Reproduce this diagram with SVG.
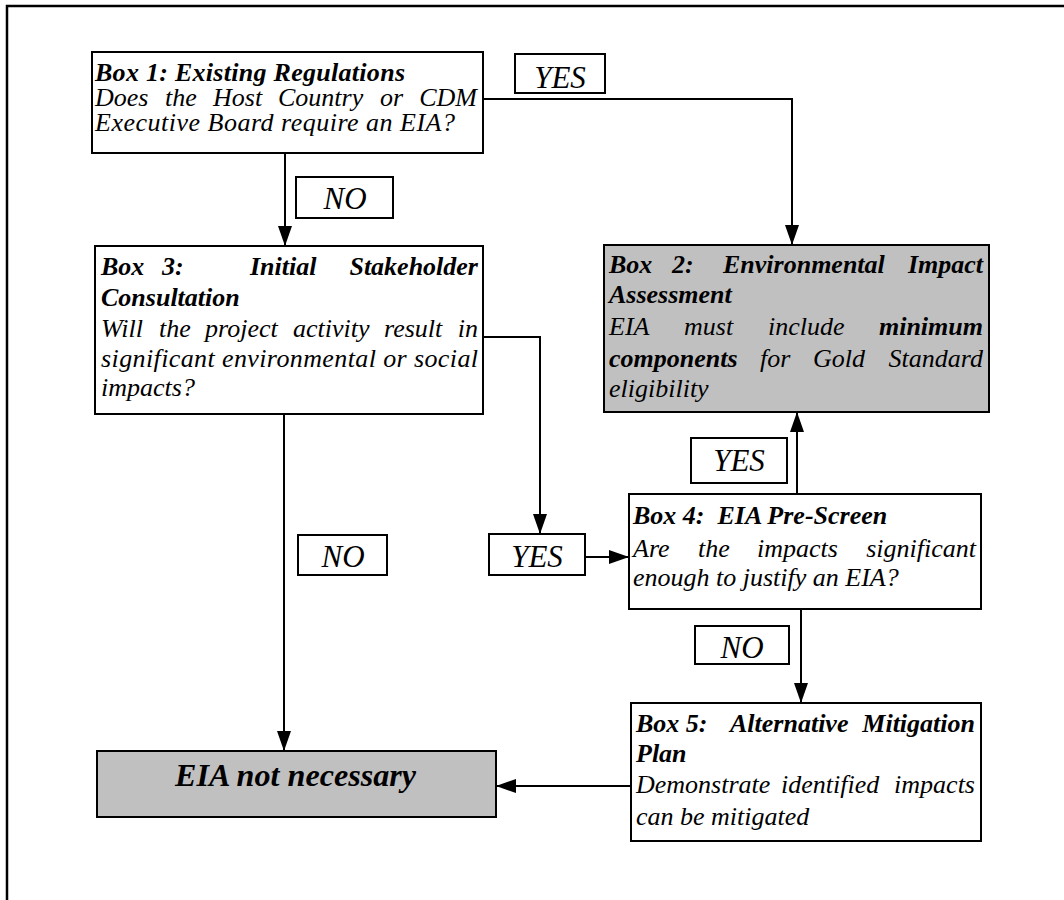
<svg xmlns="http://www.w3.org/2000/svg" width="1064" height="900" viewBox="0 0 1064 900">
<defs>
<marker id="arr" viewBox="0 0 20 14" refX="20" refY="7" markerWidth="20" markerHeight="14" markerUnits="userSpaceOnUse" orient="auto">
<path d="M0,0 L20,7 L0,14 z" fill="#000"/>
</marker>
</defs>
<style>
.box{fill:#fff;stroke:#000;stroke-width:2}
.grey{fill:#c0c0c0;stroke:#000;stroke-width:2}
.lab{fill:#fff;stroke:#000;stroke-width:2}
.con{fill:none;stroke:#000;stroke-width:2;marker-end:url(#arr)}
</style>
<rect width="1064" height="900" fill="#fff"/>
<g id="frame">
<path d="M7,900 V6 H1064" fill="none" stroke="#000" stroke-width="2.5"/>
</g>
<g id="connectors">
<path class="con" d="M483,99 H792 V245"/>
<path class="con" d="M285,153 V246"/>
<path class="con" d="M483,337 H540 V534"/>
<path class="con" d="M585,557 H629"/>
<path class="con" d="M797,494 V412"/>
<path class="con" d="M801,609 V703"/>
<path class="con" d="M284,414 V751"/>
<path class="con" d="M631,786 H496"/>
</g>
<g id="box1" font-family="Liberation Serif" font-style="italic" font-size="26">
<rect class="box" x="92" y="52" width="391" height="101"/>
<text font-weight="bold" x="95" y="81" textLength="310" lengthAdjust="spacing">Box 1: Existing Regulations</text>
<text x="95" y="106">Does</text>
<text x="165" y="106">the</text>
<text x="213" y="106">Host</text>
<text x="278" y="106">Country</text>
<text x="380" y="106">or</text>
<text x="477" y="106" text-anchor="end">CDM</text>
<text x="95" y="131" textLength="360" lengthAdjust="spacing">Executive Board require an EIA?</text>
</g>
<g id="box3" font-family="Liberation Serif" font-style="italic" font-size="26">
<rect class="box" x="95" y="246" width="388" height="168"/>
<text font-weight="bold" x="101" y="275">Box</text>
<text font-weight="bold" x="162" y="275">3:</text>
<text font-weight="bold" x="250" y="275">Initial</text>
<text font-weight="bold" x="478" y="275" text-anchor="end">Stakeholder</text>
<text font-weight="bold" x="101" y="306">Consultation</text>
<text x="101" y="337">Will</text>
<text x="159" y="337">the</text>
<text x="205" y="337">project</text>
<text x="293" y="337">activity</text>
<text x="384" y="337">result</text>
<text x="478" y="337" text-anchor="end">in</text>
<text x="101" y="367" textLength="377" lengthAdjust="spacing">significant environmental or social</text>
<text x="101" y="396">impacts?</text>
</g>
<g id="box2" font-family="Liberation Serif" font-style="italic" font-size="26">
<rect class="grey" x="604" y="245" width="385" height="167"/>
<text font-weight="bold" x="609" y="273">Box</text>
<text font-weight="bold" x="672" y="273">2:</text>
<text font-weight="bold" x="723" y="273">Environmental</text>
<text font-weight="bold" x="983" y="273" text-anchor="end">Impact</text>
<text font-weight="bold" x="609" y="303">Assessment</text>
<text x="609" y="335">EIA</text>
<text x="684" y="335">must</text>
<text x="768" y="335">include</text>
<text font-weight="bold" x="983" y="335" text-anchor="end">minimum</text>
<text font-weight="bold" x="609" y="367">components</text>
<text x="760" y="367">for</text>
<text x="813" y="367">Gold</text>
<text x="983" y="367" text-anchor="end">Standard</text>
<text x="609" y="397">eligibility</text>
</g>
<g id="box4" font-family="Liberation Serif" font-style="italic" font-size="26">
<rect class="box" x="629" y="494" width="352" height="115"/>
<text font-weight="bold" x="633" y="524" xml:space="preserve">Box 4:  EIA Pre-Screen</text>
<text x="633" y="557">Are</text>
<text x="698" y="557">the</text>
<text x="757" y="557">impacts</text>
<text x="976" y="557" text-anchor="end">significant</text>
<text x="633" y="586">enough to justify an EIA?</text>
</g>
<g id="box5" font-family="Liberation Serif" font-style="italic" font-size="26">
<rect class="box" x="631" y="703" width="350" height="138"/>
<text font-weight="bold" x="636" y="732">Box 5:</text>
<text font-weight="bold" x="730" y="732">Alternative</text>
<text font-weight="bold" x="975" y="732" text-anchor="end">Mitigation</text>
<text font-weight="bold" x="636" y="762">Plan</text>
<text x="636" y="793">Demonstrate</text>
<text x="781" y="793">identified</text>
<text x="975" y="793" text-anchor="end">impacts</text>
<text x="636" y="825">can be mitigated</text>
</g>
<g id="eia-not-necessary" font-family="Liberation Serif" font-style="italic">
<rect class="grey" x="97" y="751" width="399" height="66"/>
<text font-weight="bold" x="175" y="786" font-size="31" textLength="241" lengthAdjust="spacingAndGlyphs">EIA not necessary</text>
</g>
<g id="label-yes1" font-family="Liberation Serif" font-style="italic" font-size="31">
<rect class="lab" x="515" y="54" width="90" height="39"/>
<text x="560" y="88" text-anchor="middle">YES</text>
</g>
<g id="label-no1" font-family="Liberation Serif" font-style="italic" font-size="31">
<rect class="lab" x="296" y="177" width="97" height="41"/>
<text x="345" y="209" text-anchor="middle">NO</text>
</g>
<g id="label-yes2" font-family="Liberation Serif" font-style="italic" font-size="31">
<rect class="lab" x="489" y="534" width="96" height="41"/>
<text x="537" y="567" text-anchor="middle">YES</text>
</g>
<g id="label-yes3" font-family="Liberation Serif" font-style="italic" font-size="31">
<rect class="lab" x="691" y="438" width="96" height="45"/>
<text x="739" y="471" text-anchor="middle">YES</text>
</g>
<g id="label-no2" font-family="Liberation Serif" font-style="italic" font-size="31">
<rect class="lab" x="298" y="535" width="89" height="40"/>
<text x="343" y="567" text-anchor="middle">NO</text>
</g>
<g id="label-no3" font-family="Liberation Serif" font-style="italic" font-size="31">
<rect class="lab" x="695" y="626" width="94" height="38"/>
<text x="742" y="658" text-anchor="middle">NO</text>
</g>
</svg>
